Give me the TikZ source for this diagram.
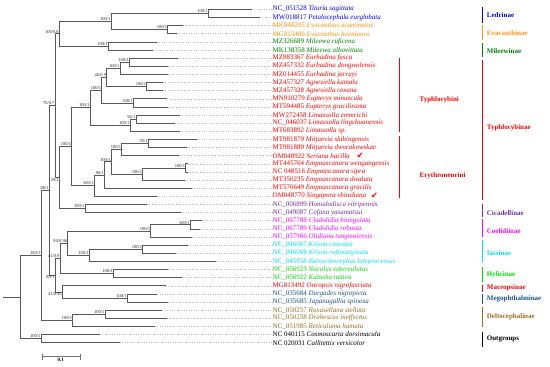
\documentclass[tikz,border=0pt]{standalone}
\usepackage{fontspec}
\setmainfont{Liberation Serif}
\newfontfamily\chkfont{DejaVu Sans}
\usepackage{xcolor}
\usetikzlibrary{positioning,calc}

\definecolor{cLed}{RGB}{0,0,255}
\definecolor{cEva}{RGB}{255,145,20}
\definecolor{cMil}{RGB}{0,128,0}
\definecolor{cTyp}{RGB}{255,0,0}
\definecolor{cCic}{RGB}{112,48,160}
\definecolor{cCoe}{RGB}{255,0,255}
\definecolor{cIas}{RGB}{0,225,240}
\definecolor{cHyl}{RGB}{0,220,0}
\definecolor{cMac}{RGB}{255,0,0}
\definecolor{cMeg}{RGB}{30,80,140}
\definecolor{cDel}{RGB}{153,110,30}
\definecolor{cOut}{RGB}{0,0,0}

\begin{document}
\begin{tikzpicture}[x=1pt, y=-1pt,
  br/.style={black!65, line width=0.6pt},
  leader/.style={black!25, dotted, line width=0.4pt},
  tip/.style={anchor=west, inner sep=0.5pt, font=\fontsize{7}{8}\selectfont},
  sup/.style={anchor=south east, inner sep=0.4pt, font=\fontsize{4.5}{5}\selectfont, text=black!85},
  supb/.style={sup, anchor=north east},
  bar/.style={line width=1.4pt},
  grp/.style={anchor=west, inner sep=0.5pt, font=\fontsize{7}{8}\selectfont\bfseries},
  chk/.style={text=red, inner sep=0pt, font=\chkfont\fontsize{8.5}{9}\selectfont}]

  \useasboundingbox (0,0) rectangle (550,367);

  % taxa: tip end, label, dotted leader
  \foreach \i/\xe/\acc/\sp/\col in {
    1/251.7/NC\_051528/Tituria sagittata/cLed,
    2/260/MW018817/Petalocephala eurglobata/cLed,
    3/182.7/MK948205/Evacanthus acuminatus/cEva,
    4/176.7/MG813486/Evacanthus heimianus/cEva,
    5/156.7/MZ326689/Mileewa ruficena/cMil,
    6/152.7/MK138358/Mileewa albovittata/cMil,
    7/177.7/MZ983367/Eurhadina fusca/cTyp,
    8/168.3/MZ457332/Eurhadina dongwolensis/cTyp,
    9/168.3/MZ014455/Eurhadina jarrayi/cTyp,
    10/162.7/MZ457327/Agnesiella kamala/cTyp,
    11/162.7/MZ457328/Agnesiella roxana/cTyp,
    12/167.3/MN910279/Eupteryx minuscula/cTyp,
    13/168.3/MT594485/Eupteryx gracilirama/cTyp,
    14/180/MW272458/Limassolla emmrichi/cTyp,
    15/175/NC\_046037/Limassolla lingchuanensis/cTyp,
    16/180/MT683892/Limassolla sp./cTyp,
    17/196.7/MT981879/Mitjaevia shibingensis/cTyp,
    18/186.7/MT981880/Mitjaevia dworakowskae/cTyp,
    19/179.3/OM048922/Seriana bacilla/cTyp,
    20/187.5/MT445764/Empoascanara wengangensis/cTyp,
    21/187.5/NC 048516/Empoascanara sipra/cTyp,
    22/185/MT350235/Empoascanara dwalata/cTyp,
    23/191.7/MT576649/Empoascanara gracilis/cTyp,
    24/156.7/OM048770/Singapora shinshana/cTyp,
    25/146.7/NC\_006899/Homalodisca vitripennis/cCic,
    26/180.7/NC\_049087/Cofana yasumatsui/cCic,
    27/202.3/NC\_067788/Cladolidia biungulata/cCoe,
    28/200/NC\_067789/Cladolidia robusta/cCoe,
    29/191.7/NC\_057966/Olidiana tongmaiensis/cCoe,
    30/187.7/NC\_046067/Krisna concava/cIas,
    31/175.7/NC\_046068/Krisna rufimarginata/cIas,
    32/216/NC\_045858/Batracomorphus lateprocessus/cIas,
    33/168.3/NC\_056923/Nacolus tuberculatus/cHyl,
    34/181.7/NC\_056922/Kalasha nativa/cHyl,
    35/165.7/MG813492/Oncopsis nigrofasciata/cMac,
    36/157.3/NC\_035684/Durgades nigropicta/cMeg,
    37/168.3/NC\_035685/Japanagallia spinosa/cMeg,
    38/162.3/NC\_050257/Roxasellana stellata/cDel,
    39/166.7/NC\_050258/Drabescus ineffectus/cDel,
    40/155/NC\_051985/Reticuluma hamata/cDel,
    41/100/NC 040115/Cosmoscarta dorsimacula/cOut,
    42/120/NC 020031/Callitettix versicolor/cOut}{
    \coordinate (t\i) at (\xe,{9.3+(\i-1)*8.13});
    \node[tip, text=\col] (l\i) at (272,{9.3+(\i-1)*8.13}) {\acc\ \textit{\sp}};
    \draw[leader] (t\i) -- (l\i.west);
  }

  % internal nodes
  \foreach \n/\x/\y in {Led/208.3/13.37, Eva/167.7/29.63, LE/111/21.5, Mil/108.3/45.89,
    N100a/59.3/33.69, Eur2/129.3/62.15, Eur3/120/68.24, Agn/146.7/86.54, N46/106.7/77.39,
    Eup/133.3/102.8, NEA/101.7/90.09, Lim2/136/119.06, Lim3/130/125.15, Tbi/90/107.62,
    Mit/148.3/143.45, MS/121.7/149.54, Emp2/185.7/167.84, Emp3/142.7/173.93,
    MSE/111/161.74, N96/104.5/174.95, Ery/94/185.62, Typ/71.7/146.62, Cic/85/208.48,
    N39/59.3/177.55, N76/55/105.62, Cla/190/224.75, Coe/150.7/230.84, Kri/142.7/249.14,
    Ias/89.3/255.23, N84/67.7/243.04, Hyl/113.3/273.53, N41a/60/258.28, Meg/127.3/297.92,
    N41b/62.3/291.82, N89/55/275.05, N88/49.3/190.33, RD/105/314.18, Del/72.7/320.27,
    Ing/41/255.3, Out/41/338.57, Root/20/296.93}
    \coordinate (\n) at (\x,\y);
  \coordinate (r0) at (3,296.93);

  % branches
  \foreach \p/\ch in {Led/t1, Led/t2, Eva/t3, Eva/t4, LE/Led, LE/Eva, Mil/t5, Mil/t6,
    N100a/LE, N100a/Mil, Eur2/t7, Eur2/t8, Eur3/Eur2, Eur3/t9, Agn/t10, Agn/t11,
    N46/Eur3, N46/Agn, Eup/t12, Eup/t13, NEA/N46, NEA/Eup, Lim2/t14, Lim2/t15,
    Lim3/Lim2, Lim3/t16, Tbi/NEA, Tbi/Lim3, Mit/t17, Mit/t18, MS/Mit, MS/t19,
    Emp2/t20, Emp2/t21, Emp3/Emp2, Emp3/t22, MSE/MS, MSE/Emp3, N96/MSE, N96/t23,
    Ery/N96, Ery/t24, Typ/Tbi, Typ/Ery, Cic/t25, Cic/t26, N39/Typ, N39/Cic,
    N76/N100a, N76/N39, Cla/t27, Cla/t28, Coe/Cla, Coe/t29, Kri/t30, Kri/t31,
    Ias/Kri, Ias/t32, N84/Coe, N84/Ias, Hyl/t33, Hyl/t34, N41a/N84, N41a/Hyl,
    Meg/t36, Meg/t37, N41b/t35, N41b/Meg, N89/N41a, N89/N41b, N88/N76, N88/N89,
    RD/t38, RD/t39, Del/RD, Del/t40, Ing/N88, Ing/Del, Out/t41, Out/t42,
    Root/Ing, Root/Out}
    \draw[br] (\p) |- (\ch);
  \draw[br] (r0) -- (Root);

  % support values
  \foreach \n/\a/\b in {Led/100/1, Eva/100/1, LE/100/1, Mil/100/1, N100a/100/0.8,
    Eur2/100/1, Eur3/100/1, Agn/100/1, N46/46/0.9, Eup/100/1, NEA/100/1, Lim2/96/1,
    Lim3/100/1, Tbi/100/1, Mit/93/1, MS/100/1, Emp2/100/1, Emp3/100/1, MSE/100/1,
    N96/96/1, Ery/100/1, Typ/100/1, Cic/100/1, N76/76/0.7, Cla/100/1, Coe/100/1,
    Kri/100/1, Ias/100/1, N84/84/0.96, Hyl/100/1, N41a/41/0.9, Meg/100/1, N88/88/1,
    RD/100/1, Del/100/1, Ing/100/1, Out/100/1}
    \node[sup] (s\n) at (\n) {\a/\b};
  \foreach \n/\a/\b in {N39/39/1, N89/89/1, N41b/41/0.95}
    \node[supb] (s\n) at (\n) {\a/\b};

  % check marks
  \node[chk, right=6pt of l19] (ck19) {✔};
  \node[chk, right=4pt of l24] (ck24) {✔};

  % tribes
  \draw[bar, cTyp] (399.3,58.3) -- (399.3,131.7);
  \draw[bar, cTyp] (399.3,135.7) -- (399.3,197.7);
  \node[grp, text=cTyp] (trTbi) at (419,99.5) {Typhlocybini};
  \node[grp, text=cTyp] (trEry) at (419,176) {Erythroneurini};

  % subfamilies
  \foreach \ya/\yb/\yl/\nm/\col in {7.3/22.7/15/Ledrinae/cLed, 25/40/33/Evacanthinae/cEva,
    42.7/57.3/51/Mileewinae/cMil, 60/200/128.3/Typhlocybinae/cTyp,
    204/216.7/213.3/Cicadellinae/cCic, 219/236.7/230.7/Coelidiinae/cCoe,
    240/261.7/253.3/Iassinae/cIas, 267.3/281.7/275/Hylicinae/cHyl,
    285/291.7/287.7/Macropsinae/cMac, 294.3/304.3/299.3/Megophthalminae/cMeg,
    306.7/326.7/316.7/Deltocephalinae/cDel, 331.7/346.7/339.3/Outgroups/cOut}{
    \draw[bar, \col] (482.3,\ya) -- (482.3,\yb);
    \node[grp, text=\col] (g\nm) at (486.2,\yl) {\nm};
  }

  % scale bar
  \coordinate (sb0) at (41.7,356.7);
  \coordinate (sb1) at (80,356.7);
  \draw[br, black!55, |-|, line width=0.5pt] (sb0) -- (sb1);
  \node[font=\fontsize{5}{6}\selectfont\bfseries, inner sep=0.5pt, below=1pt of $(sb0)!.5!(sb1)$] (sbl) {0.1};
\end{tikzpicture}
\end{document}
